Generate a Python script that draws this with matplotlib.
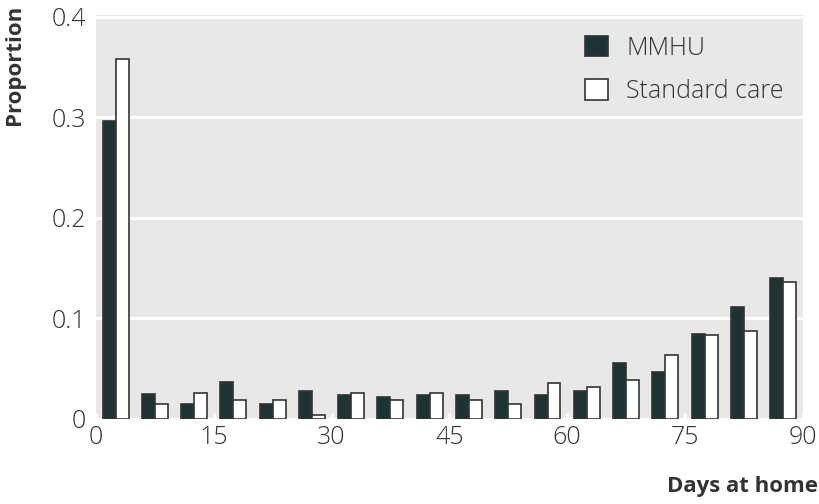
import numpy as np
import matplotlib
matplotlib.use("Agg")
import matplotlib.pyplot as plt

# data: proportion of patients by days at home (5-day bins, 0-90)
bin_starts = np.arange(0, 90, 5)
mmhu = [0.296, 0.024, 0.014, 0.036, 0.014, 0.027, 0.023, 0.021, 0.023,
        0.023, 0.027, 0.023, 0.027, 0.055, 0.046, 0.084, 0.111, 0.140]
standard = [0.358, 0.014, 0.025, 0.018, 0.018, 0.004, 0.025, 0.018, 0.025,
            0.018, 0.014, 0.035, 0.031, 0.038, 0.063, 0.083, 0.087, 0.136]
x_ticks = [0, 15, 30, 45, 60, 75, 90]
y_ticks = [0, 0.1, 0.2, 0.3, 0.4]
y_ticklabels = ["0", "0.1", "0.2", "0.3", "0.4"]

C_DARK = "#1e3434"
C_EDGE = "#333333"
C_BG = "#e8e8e8"
C_TXT = "#333333"

plt.rcParams["font.family"] = ["Open Sans", "DejaVu Sans"]

fig = plt.figure(figsize=(8.2, 5.04), dpi=100, facecolor="white")
ax = fig.add_axes([0.117, 0.1696, 0.862, 0.8006])
ax.set_facecolor(C_BG)

bw = 1.65
centers = bin_starts + 2.5
ax.bar(centers - bw / 2, mmhu, width=bw, color=C_DARK, edgecolor=C_EDGE,
       linewidth=1.2, label="MMHU", zorder=3)
ax.bar(centers + bw / 2, standard, width=bw, color="white", edgecolor=C_EDGE,
       linewidth=1.2, label="Standard care", zorder=3)

ax.set_xlim(0, 90)
ax.set_ylim(0, 0.4015)
ax.set_xticks(x_ticks)
ax.set_yticks(y_ticks)
ax.set_yticklabels(y_ticklabels)
ax.yaxis.grid(True, color="white", linewidth=2.2, zorder=1)
ax.set_axisbelow(True)
for s in ax.spines.values():
    s.set_visible(False)
ax.tick_params(axis="x", direction="in", length=4, width=2, color="white",
               labelsize=18, labelcolor=C_TXT, pad=5)
ax.tick_params(axis="y", length=0, labelsize=18, labelcolor=C_TXT, pad=7)
for lbl in ax.get_xticklabels() + ax.get_yticklabels():
    lbl.set_fontweight("light")

fig.text(0.018, 0.99, "Proportion", rotation=90, ha="center", va="top",
         fontsize=16, fontweight="bold", color=C_TXT)
fig.text(0.997, 0.035, "Days at home", ha="right", va="center",
         fontsize=16, fontweight="bold", color=C_TXT)

leg = ax.legend(loc="upper right", bbox_to_anchor=(1.005, 1.005), frameon=False,
                fontsize=18, handlelength=0.9, handleheight=0.9,
                handletextpad=0.75, labelspacing=0.75, borderaxespad=0.5)
for t in leg.get_texts():
    t.set_color(C_TXT)
    t.set_fontweight("light")

fig.savefig("out.png", dpi=100, facecolor="white")
